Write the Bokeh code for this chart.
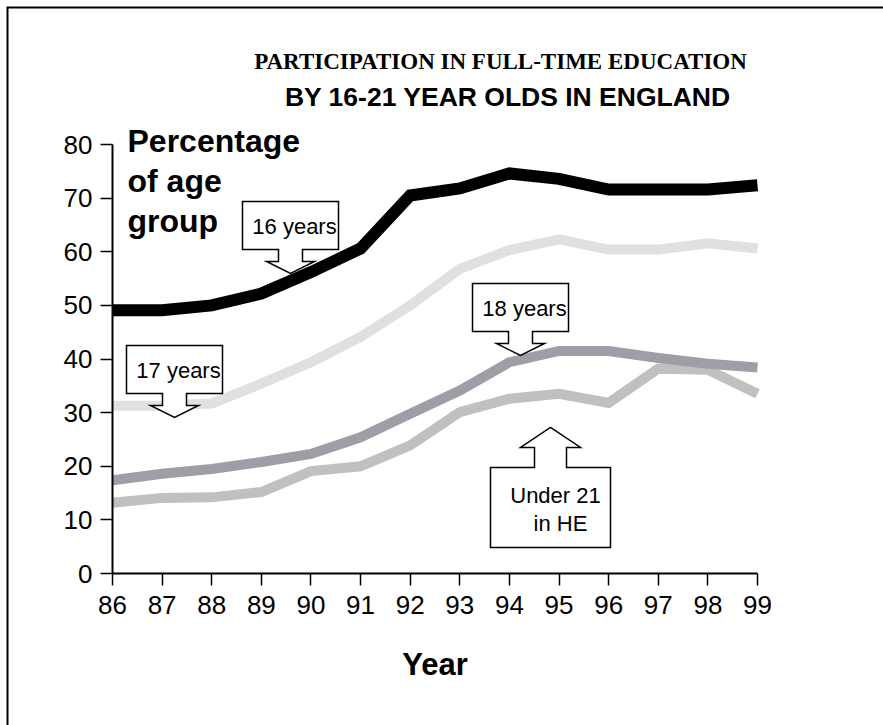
from bokeh.plotting import figure
from bokeh.models import Range1d, FixedTicker, Label
from bokeh.embed import file_html
from bokeh.resources import INLINE

# ---- data ----
years = [86, 87, 88, 89, 90, 91, 92, 93, 94, 95, 96, 97, 98, 99]
age16 = [49.1, 49.1, 50.0, 52.2, 56.2, 60.6, 70.5, 71.8, 74.6, 73.6, 71.6, 71.6, 71.6, 72.4]
age17 = [31.3, 31.3, 31.7, 35.4, 39.4, 44.1, 50.0, 56.8, 60.3, 62.3, 60.4, 60.4, 61.6, 60.6]
age18 = [17.4, 18.6, 19.5, 20.8, 22.3, 25.4, 29.8, 34.1, 39.4, 41.5, 41.5, 40.2, 39.1, 38.4]
under21_he = [13.2, 14.1, 14.2, 15.2, 19.1, 20.0, 23.9, 30.1, 32.6, 33.5, 31.8, 38.2, 38.0, 33.5]
x_ticks = years
y_ticks = [0, 10, 20, 30, 40, 50, 60, 70, 80]

title1 = "PARTICIPATION IN FULL-TIME EDUCATION"
title2 = "BY 16-21 YEAR OLDS IN ENGLAND"
ylab_lines = ["Percentage", "of age", "group"]
xlab = "Year"

W, H = 883, 725
FL, FR, FB = 112, 757, 573       # axis extents in page pixels
XMIN, XMAX, YMIN, YMAX = 86, 99, 0, 80
XS = (FR - FL) / (XMAX - XMIN)   # px per year
YS = 429 / 80                    # px per percentage point

def sx2x(sx):
    return XMIN + (sx - FL) / XS

def sy2y(sy):
    return YMIN + (FB - sy) / YS

p = figure(width=W, height=H, output_backend="svg", toolbar_location=None,
           x_range=Range1d(sx2x(0), sx2x(W)), y_range=Range1d(sy2y(H), sy2y(0)),
           min_border_left=0, min_border_right=0, min_border_top=0, min_border_bottom=0)
p.outline_line_color = None
p.xgrid.visible = False
p.ygrid.visible = False
p.background_fill_color = "white"
p.border_fill_color = "white"

for ax in (p.xaxis[0], p.yaxis[0]):
    ax.axis_line_width = 2
    ax.axis_line_color = "black"
    ax.major_tick_line_color = "black"
    ax.major_tick_line_width = 1.5
    ax.major_tick_in = 0
    ax.major_tick_out = 12
    ax.minor_tick_line_color = None
    ax.major_label_text_font = "Liberation Sans"
    ax.major_label_text_font_size = "26px"
    ax.major_label_text_color = "black"

p.xaxis.major_label_standoff = 10
p.yaxis.major_label_standoff = 8
p.xaxis.ticker = FixedTicker(ticks=x_ticks)
p.yaxis.ticker = FixedTicker(ticks=y_ticks)
p.xaxis.bounds = (XMIN, XMAX)
p.yaxis.bounds = (YMIN, YMAX)
p.xaxis.fixed_location = YMIN
p.yaxis.fixed_location = XMIN

# ---- outer frame (top and left edges) ----
p.line([sx2x(7), sx2x(7), sx2x(W + 10)], [sy2y(H + 10), sy2y(7), sy2y(7)],
       line_color="black", line_width=2, line_join="miter")

# ---- series ----
series = [
    (under21_he, "#c0c0c0", 10),
    (age18, "#9f9ea6", 10),
    (age17, "#e0e0e0", 10),
    (age16, "#000000", 12),
]
for vals, col, lw in series:
    p.line(years, vals, line_color=col, line_width=lw, line_join="miter", line_cap="butt")

# ---- callouts ----
def callout(tx, ty, hw, top, bot, sw, ww, wy, up=False):
    pts = [(-hw, -top), (hw, -top), (hw, -bot), (sw, -bot), (sw, -wy), (ww, -wy), (0, 0),
           (-ww, -wy), (-sw, -wy), (-sw, -bot), (-hw, -bot)]
    sgn = -1 if up else 1
    xs = [tx + dx / XS for dx, dy in pts]
    ys = [ty - sgn * dy / YS for dx, dy in pts]
    p.patch(xs, ys, fill_color="white", line_color="black", line_width=1.5, line_join="miter")

def ctext(tx, ty, dx, dy, txt):
    p.add_layout(Label(x=tx + dx / XS, y=ty - dy / YS, text=txt, text_align="center",
                       text_baseline="middle", text_font="Liberation Sans",
                       text_font_size="22px", text_color="black"))

callouts_down = [
    (sx2x(290), sy2y(273), "16 years"),
    (sx2x(174), sy2y(417), "17 years"),
    (sx2x(520), sy2y(355), "18 years"),
]
for tx, ty, txt in callouts_down:
    callout(tx, ty, 48, 72, 24, 12, 24, 12)
    ctext(tx, ty, 4, -47, txt)

tx, ty = sx2x(550), sy2y(427)
callout(tx, ty, 60, 120, 40, 16, 30, 20, up=True)
ctext(tx, ty, 5, 68, "Under 21")
ctext(tx, ty, 10, 96, "in HE")

# ---- y label block ----
for i, line in enumerate(ylab_lines):
    p.add_layout(Label(x=sx2x(127), y=sy2y(140 + 40 * i), text=line, text_align="left",
                       text_baseline="alphabetic", text_font="Liberation Sans",
                       text_font_style="bold", text_font_size="32px", text_color="black"))

# ---- x axis title ----
p.add_layout(Label(x=(XMIN + XMAX) / 2, y=sy2y(664), text=xlab, text_align="center",
                   text_baseline="middle", text_font="Liberation Sans",
                   text_font_style="bold", text_font_size="31px", text_color="black"))

# ---- titles ----
p.add_layout(Label(x=sx2x(500), y=sy2y(61), text=title1, text_align="center",
                   text_baseline="alphabetic", text_font="Liberation Serif",
                   text_font_style="bold", text_font_size="23px", text_color="black"))
p.add_layout(Label(x=sx2x(507.5), y=sy2y(96), text=title2, text_align="center",
                   text_baseline="alphabetic", text_font="Liberation Sans",
                   text_font_style="bold", text_font_size="26.5px", text_color="black"))

open("out.html", "w").write(file_html(p, INLINE))
